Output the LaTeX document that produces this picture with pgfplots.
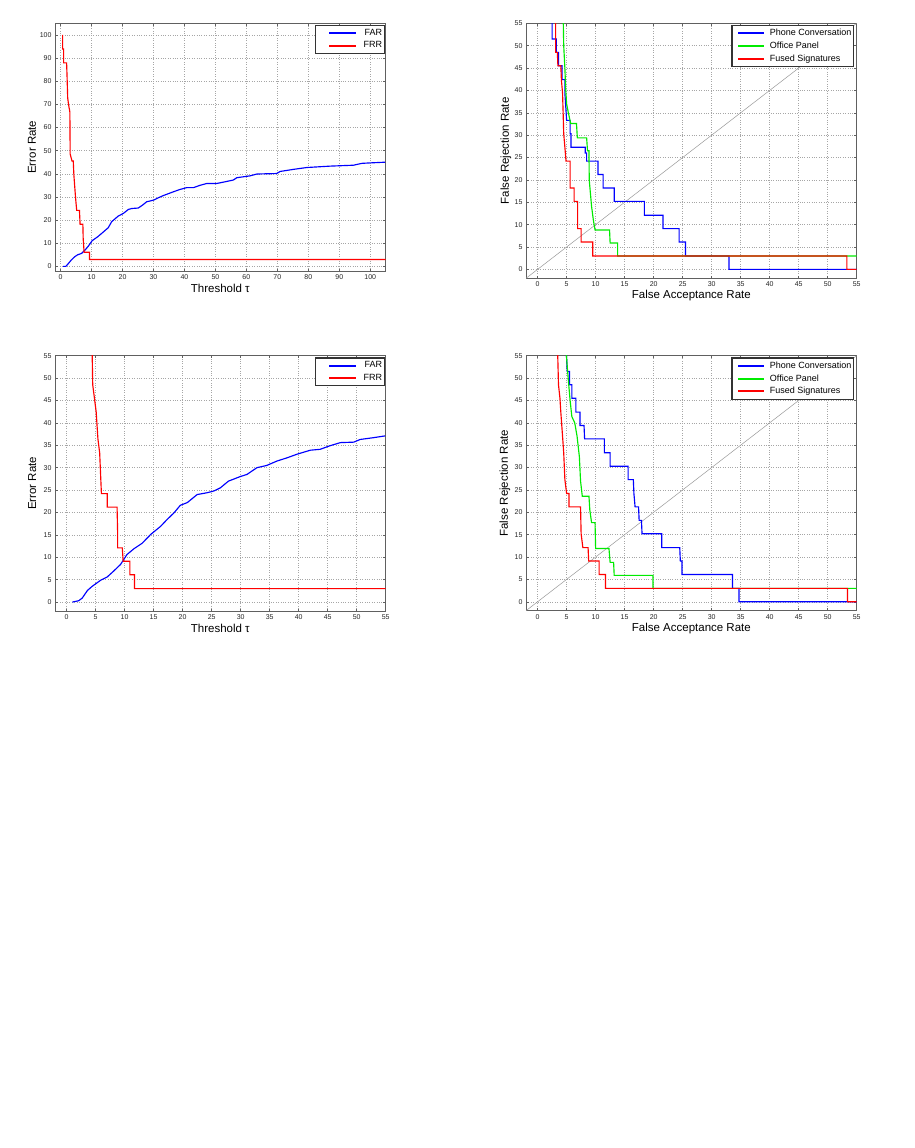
\documentclass[border=0pt]{standalone}
\usepackage{fontspec}
\setmainfont{Liberation Sans}
\usepackage{pgfplots}
\pgfplotsset{compat=1.18}
\definecolor{mblue}{RGB}{0,0,255}
\definecolor{mgreen}{RGB}{0,235,0}
\definecolor{mred}{RGB}{255,0,0}
\pgfplotsset{
  mystyle/.style={
    scale only axis, width=330.7pt, anchor=south west,
    tick align=inside, major tick length=2.5pt,
    grid=major, major grid style={dotted, gray!70, line width=0.5pt},
    axis line style={gray!75!black, line width=0.8pt},
    tick style={gray!75!black, line width=0.5pt},
    tick label style={font=\fontsize{7}{7}\selectfont, text=black!85},
    label style={font=\fontsize{11.5}{13}\selectfont},
    /pgf/number format/assume math mode=true,
    xlabel style={at={(axis description cs:0.5,0)}, anchor=center, yshift=-17.5pt},
    legend style={font=\fontsize{9}{10}\selectfont, draw=black!80, line width=1.1pt,
      fill=white, anchor=north east,
      inner xsep=0pt, inner ysep=1.3pt, column sep=0pt,
      nodes={inner xsep=2pt, inner ysep=2.4pt}},
    every axis plot/.append style={line width=1.15pt},
  },
  legA/.style={legend style={at={(rel axis cs:0.997,0.993)}},
    legend image code/.code={\path[draw=none] (-13pt,0pt) -- (33pt,0pt); \fill[##1, draw=none, solid] (0pt,-1.05pt) rectangle (27pt,1.05pt);}},
  legB/.style={legend style={at={(rel axis cs:0.992,0.993)}},
    legend image code/.code={\path[draw=none] (-6pt,0pt) -- (30pt,0pt); \fill[##1, draw=none, solid] (0pt,-1.05pt) rectangle (26pt,1.05pt);}},
}
\begin{document}
\begin{tikzpicture}
\path[use as bounding box, fill=white] (0,0) rectangle (915pt,-1148pt);

% ---------- Plot 1 ----------
\begin{axis}[mystyle, legA, at={(55pt,-271pt)}, height=247.7pt,
  xmin=-1.8, xmax=105, ymin=-2, ymax=105,
  xtick={0,10,...,100}, ytick={0,10,...,100},
  xlabel={Threshold τ}, ylabel={Error Rate},
  ylabel style={at={(axis description cs:-0.0695,0.5)}, rotate=0, anchor=center},
  legend cell align=right]
\addplot[mblue] coordinates {
(0.86,0) (1.7,0) (2.5,1.2) (3.5,2.8) (4.6,4.2) (5.5,5) (6.8,5.6) (8,7.2) (9,8.8) (10.2,11.1)
(12,12.8) (13.5,14.5) (15.4,16.7) (16.5,19.3) (18.6,21.7) (20.3,22.9) (21.9,24.6) (23,25)
(25.1,25.2) (26.5,26.5) (27.8,27.9) (30,28.6) (31.5,29.6) (33.2,30.6) (36.4,32.2) (38.5,33.2)
(40.7,34) (42.9,34) (45,35) (47.2,35.8) (50.4,35.8) (53,36.5) (55.8,37.3) (56.9,38.3)
(61.2,39.1) (63.4,39.9) (69.8,40.1) (70.9,41) (75.2,41.9) (79.5,42.7) (87,43.3) (94.6,43.7)
(97.3,44.5) (100,44.7) (104.8,45)};
\addplot[mred] coordinates {
(0.65,100) (0.65,93.9) (1.0,93.9) (1.0,87.9) (1.95,87.9) (2.1,81.8) (2.3,72.7) (2.6,69.7)
(3.0,66.7) (3.1,48.5) (3.7,45.5) (4.1,45.5) (4.3,39.4) (4.8,30.3) (5.2,24.2) (6.1,24.2)
(6.3,18.2) (7.2,18.2) (7.3,12.1) (7.6,6.1) (9.35,6.1) (9.35,3.0) (105,3.0)};
\legend{FAR,FRR}
\end{axis}

% ---------- Plot 2 ----------
\begin{axis}[mystyle, legB, at={(526pt,-278.3pt)}, height=255pt,
  xmin=-2, xmax=55, ymin=-2, ymax=55,
  xtick={0,5,...,55}, ytick={0,5,...,55},
  xlabel={False Acceptance Rate}, ylabel={False Rejection Rate},
  ylabel style={at={(axis description cs:-0.0605,0.5)}, rotate=0, anchor=center},
  legend cell align=left]
\addplot[gray!80, line width=0.5pt, forget plot] coordinates {(-2,-2) (55,55)};
\addplot[mblue] coordinates {
(2.5,57) (2.5,51.5) (3.2,51.5) (3.2,48.5) (3.6,48.5) (3.6,45.5) (4.2,45.5) (4.2,42.4)
(4.7,42.4) (4.7,39.4) (4.85,36.4) (5.0,33.3) (5.6,33.3) (5.6,30.3) (5.75,30.3) (5.75,27.3)
(8.2,27.3) (8.2,26.0) (8.45,26.0) (8.45,24.2) (10.4,24.2) (10.4,21.2) (11.3,21.2) (11.3,18.2)
(13.2,18.2) (13.2,15.2) (18.4,15.2) (18.4,12.1) (21.6,12.1) (21.6,9.1) (24.4,9.1) (24.4,6.1)
(25.5,6.1) (25.5,3.0) (33.0,3.0) (33.0,0) (55,0)};
\addplot[mgreen] coordinates {
(4.4,57) (4.5,50) (4.7,45) (4.85,40) (5.0,37) (5.3,35) (5.7,32.6) (6.7,32.6) (6.85,29.4)
(8.45,29.4) (8.6,26.5) (8.85,26.5) (8.9,20) (9.0,18.5) (9.3,14.1) (9.6,11.1) (9.9,8.8)
(12.4,8.8) (12.5,5.9) (13.8,5.9) (13.8,3.0) (55,3.0)};
\addplot[mred] coordinates {
(3.1,57) (3.1,48.5) (3.4,48.5) (3.5,45.5) (4.0,45.5) (4.1,42.4) (4.3,39.4) (4.4,35)
(4.5,30.3) (4.7,27.3) (4.9,24.2) (5.6,24.2) (5.6,18.2) (6.3,18.2) (6.3,15.2) (6.9,15.2)
(6.9,9.1) (7.5,9.1) (7.5,6.1) (9.5,6.1) (9.5,3.0) (53.3,3.0) (53.3,0) (55,0)};
\legend{Phone Conversation, Office Panel, Fused Signatures}
\end{axis}

% ---------- Plot 3 ----------
\begin{axis}[mystyle, legA, at={(55pt,-611pt)}, height=255.3pt,
  xmin=-2, xmax=55, ymin=-2, ymax=55,
  xtick={0,5,...,55}, ytick={0,5,...,55},
  xlabel={Threshold τ}, ylabel={Error Rate},
  ylabel style={at={(axis description cs:-0.0686,0.5)}, rotate=0, anchor=center},
  legend cell align=right]
\addplot[mblue] coordinates {
(1.0,0) (2.1,0.3) (2.7,0.9) (3.6,2.6) (4.4,3.5) (5.9,4.9) (7.0,5.6) (8.1,6.9) (9.3,8.4)
(10.4,10.6) (11.6,11.9) (13,13.1) (14.5,15.1) (16.2,16.9) (17.3,18.4) (18.5,19.9) (19.6,21.6)
(20.8,22.2) (22.5,24) (24.2,24.4) (25.4,24.8) (26.5,25.5) (27.9,27.0) (29.9,28.0) (31.1,28.5)
(32.8,30) (34.5,30.5) (36.3,31.5) (38,32.2) (39.7,33.0) (42,33.9) (43.7,34.1) (45.4,34.9)
(47.2,35.6) (49.5,35.7) (50.6,36.3) (52.9,36.7) (54.9,37.1)};
\addplot[mred] coordinates {
(4.4,56) (4.5,48.5) (4.8,45.5) (5.1,42.4) (5.4,36.4) (5.7,33.3) (6.0,24.2) (7.0,24.2)
(7.0,21.2) (8.7,21.2) (8.8,15.2) (8.8,12.1) (9.6,12.1) (9.75,9.1) (10.9,9.1) (10.9,6.1)
(11.7,6.1) (11.7,3.0) (55,3.0)};
\legend{FAR,FRR}
\end{axis}

% ---------- Plot 4 ----------
\begin{axis}[mystyle, legB, at={(526pt,-610.7pt)}, height=255pt,
  xmin=-2, xmax=55, ymin=-2, ymax=55,
  xtick={0,5,...,55}, ytick={0,5,...,55},
  xlabel={False Acceptance Rate}, ylabel={False Rejection Rate},
  ylabel style={at={(axis description cs:-0.0635,0.5)}, rotate=0, anchor=center},
  legend cell align=left]
\addplot[gray!80, line width=0.5pt, forget plot] coordinates {(-2,-2) (55,55)};
\addplot[mblue] coordinates {
(4.95,56) (5.1,51.5) (5.5,51.5) (5.5,48.5) (5.9,48.5) (5.9,45.5) (6.6,45.5) (6.6,42.4)
(7.3,42.4) (7.3,39.4) (8.0,39.4) (8.1,36.4) (11.5,36.4) (11.5,33.3) (12.5,33.3) (12.5,30.3)
(15.6,30.3) (15.6,27.3) (16.5,27.3) (16.6,24.2) (16.8,21.2) (17.4,21.2) (17.5,18.2)
(17.9,18.2) (18.0,15.2) (21.4,15.2) (21.4,12.1) (24.5,12.1) (24.6,9.1) (24.9,9.1) (24.9,6.1)
(33.6,6.1) (33.6,3.0) (34.7,3.0) (34.7,0) (55,0)};
\addplot[mgreen] coordinates {
(4.9,56) (5.3,49.5) (5.6,45) (5.9,41.4) (6.4,40) (6.8,37) (7.2,32.4) (7.4,27) (7.7,23.6)
(8.85,23.6) (9.0,20.5) (9.3,17.7) (9.9,17.7) (10.0,11.9) (12.3,11.9) (12.5,8.8) (13.1,8.8)
(13.2,5.9) (19.9,5.9) (19.9,3.0) (55,3.0)};
\addplot[mred] coordinates {
(3.45,56) (3.6,48.5) (3.85,45.5) (4.0,42.4) (4.3,37) (4.5,33.3) (4.7,27.3) (5.0,24.2)
(5.4,24.2) (5.4,21.2) (7.4,21.2) (7.5,15.2) (7.8,12.1) (8.7,12.1) (8.8,9.1) (10.6,9.1)
(10.6,6.1) (11.7,6.1) (11.7,3.0) (53.4,3.0) (53.4,0) (55,0)};
\legend{Phone Conversation, Office Panel, Fused Signatures}
\end{axis}
\end{tikzpicture}
\end{document}
